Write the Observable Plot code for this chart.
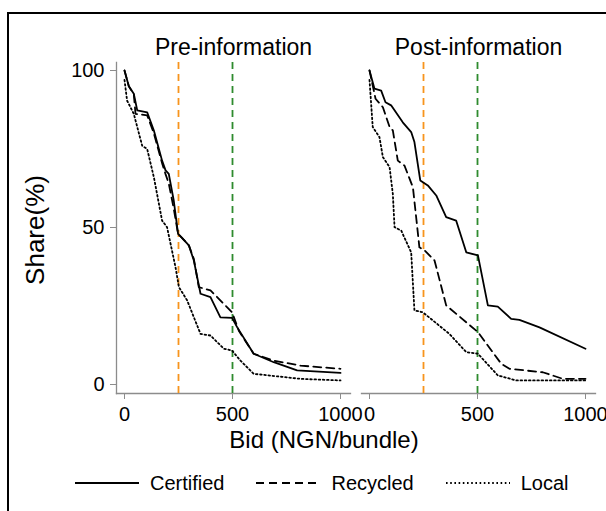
<!DOCTYPE html>
<html>
<head>
<meta charset="utf-8">
<script src="https://cdn.jsdelivr.net/npm/d3@7"></script>
<script src="https://cdn.jsdelivr.net/npm/@observablehq/plot@0.6"></script>
<style>
  html, body { margin: 0; padding: 0; background: #fff; overflow: hidden; width: 606px; height: 511px; }
  body { position: relative; font-family: "Liberation Sans", Arial, Helvetica, sans-serif; }
  #border { position: absolute; left: 7px; top: 12px; width: 2000px; height: 2000px; border-left: 2px solid #000; border-top: 2px solid #000; }
  #chart { position: absolute; left: 0; top: 0; }
  #legend { position: absolute; left: 0; top: 466px; width: 606px; height: 34px; display: flex; align-items: center; padding-left: 75px; box-sizing: border-box; font-size: 20px; color: #000; }
  #legend .item { display: flex; align-items: center; margin-right: 32px; }
  #legend svg { margin-right: 11px; }
</style>
</head>
<body>
<div id="border"></div>
<div id="chart"></div>
<div id="legend"></div>
<script>
// ---- Data ----
const panels = ["Pre-information", "Post-information"];
const seriesNames = ["Certified", "Recycled", "Local"];
const seriesDash = ["none", "8,5", "1.6,2.6"];
const xTicks = [0, 500, 1000];
const yTicks = [0, 50, 100];
const refBids = [250, 500];
const refColors = ["#f7941d", "#2e8b2e"];

// [bid (NGN/bundle), share (%)]
const preCertified = [[0,100],[20,95],[43,92.6],[59,87.3],[105,86.7],[136,80.9],[174,71.3],[190,68.2],[205,67.1],[228,58.6],[248,48],[265,46.8],[298,44.3],[321,39.5],[352,28.9],[398,27.8],[444,21.4],[498,21.2],[522,18.2],[598,9.8],[691,7.1],[799,4.5],[1000,3.7]];
const preRecycled = [[0,100],[20,95],[43,92.5],[51,86.2],[105,85.7],[136,80],[174,70.5],[190,67],[205,64],[228,56],[248,48],[265,46.8],[298,44.3],[321,40],[344,31],[398,30],[498,23],[530,17],[598,9.8],[691,7.6],[815,6],[1000,5]];
const preLocal = [[0,97],[12,90.4],[43,86.2],[59,82],[82,76],[105,75],[136,66],[174,52.2],[197,50.1],[236,37.4],[252,31],[290,26.8],[352,16.1],[398,15.6],[460,11.4],[498,10.8],[537,7.6],[598,3.4],[815,1.8],[1000,1.3]];
const postCertified = [[0,100],[23,94.2],[54,93.6],[74,89.9],[100,88.9],[154,83.5],[193,80.4],[208,77.2],[235,65],[270,63.4],[309,60.2],[355,53.3],[401,52.2],[448,42.1],[502,41.1],[548,25.2],[594,24.8],[656,20.9],[694,20.6],[787,18.2],[1000,11.4]];
const postRecycled = [[0,100],[28,91],[62,88.3],[93,82],[108,80.9],[131,71.3],[162,69.7],[201,62.8],[231,43.7],[255,42.7],[301,39.5],[355,25.2],[502,16.7],[610,6.6],[648,5],[802,3.9],[895,1.8],[1000,1.8]];
const postLocal = [[0,97],[15,82],[46,78.8],[62,72.4],[93,69.2],[108,60.7],[116,50.1],[147,49],[193,42.1],[208,23.6],[247,23],[370,16.1],[448,10.3],[502,9.8],[594,2.9],[679,1.3],[1000,1.3]];

const seriesData = {
  "Pre-information": [preCertified, preRecycled, preLocal],
  "Post-information": [postCertified, postRecycled, postLocal]
};

// ---- Build rows ----
const rows = [];
for (const panel of panels) {
  seriesData[panel].forEach((pts, i) => {
    for (const [bid, share] of pts) rows.push({panel, type: seriesNames[i], bid, share});
  });
}
const refs = refBids.map((b, i) => ({bid: b, color: refColors[i]}));

const axisGrey = "#8c8c8c";

const lineMarks = seriesNames.map((name, i) =>
  Plot.line(rows.filter(d => d.type === name), {
    x: "bid", y: "share", fx: "panel",
    stroke: "#000", strokeWidth: 1.8,
    strokeDasharray: seriesDash[i] === "none" ? null : seriesDash[i]
  })
);

const chart = Plot.plot({
  width: 606,
  height: 460,
  marginLeft: 116,
  marginRight: 11,
  marginTop: 62,
  marginBottom: 67,
  style: {fontFamily: '"Liberation Sans", Arial, Helvetica, sans-serif', color: "#000", background: "transparent"},
  fx: {domain: panels, paddingInner: 0.045, paddingOuter: 0, axis: null, label: null},
  x: {domain: [0, 1000], insetLeft: 8, insetRight: 10},
  y: {domain: [0, 100], insetTop: 8, insetBottom: 9},
  marks: [
    Plot.frame({anchor: "bottom", stroke: axisGrey, strokeWidth: 1.3}),
    Plot.frame({anchor: "left", facetAnchor: "left", stroke: axisGrey, strokeWidth: 1.3}),
    Plot.axisX({ticks: xTicks, tickSize: 6, tickPadding: 7, fontSize: 20, stroke: axisGrey, fill: "#000", label: null, tickFormat: d => String(d)}),
    Plot.axisY({ticks: yTicks, tickSize: 6, tickPadding: 6, fontSize: 20, stroke: axisGrey, fill: "#000", label: null}),
    Plot.ruleX(refs, {x: "bid", stroke: "color", strokeWidth: 1.8, strokeDasharray: "7,5"}),
    ...lineMarks,
    Plot.text(panels, {fx: d => d, text: d => d, frameAnchor: "top", dy: -15, lineAnchor: "middle", textAnchor: "middle", fontSize: 23, fill: "#000"}),
    Plot.text(["Bid (NGN/bundle)"], {facet: "super", frameAnchor: "bottom", dx: -32, dy: 47, lineAnchor: "middle", textAnchor: "middle", fontSize: 24, fill: "#000"}),
    Plot.text(["Share(%)"], {facet: "super", frameAnchor: "left", dx: -81, dy: 2, rotate: -90, lineAnchor: "middle", textAnchor: "middle", fontSize: 26, fill: "#000"})
  ]
});
document.getElementById("chart").appendChild(chart);

// ---- Legend ----
const legend = document.getElementById("legend");
seriesNames.forEach((name, i) => {
  const item = document.createElement("div");
  item.className = "item";
  const sw = document.createElementNS("http://www.w3.org/2000/svg", "svg");
  sw.setAttribute("width", 64); sw.setAttribute("height", 10);
  const ln = document.createElementNS("http://www.w3.org/2000/svg", "line");
  ln.setAttribute("x1", 0); ln.setAttribute("x2", 64); ln.setAttribute("y1", 5); ln.setAttribute("y2", 5);
  ln.setAttribute("stroke", "#000"); ln.setAttribute("stroke-width", 1.8);
  if (seriesDash[i] !== "none") ln.setAttribute("stroke-dasharray", seriesDash[i]);
  sw.appendChild(ln);
  const label = document.createElement("span");
  label.textContent = name;
  item.appendChild(sw); item.appendChild(label);
  legend.appendChild(item);
});
</script>
</body>
</html>
